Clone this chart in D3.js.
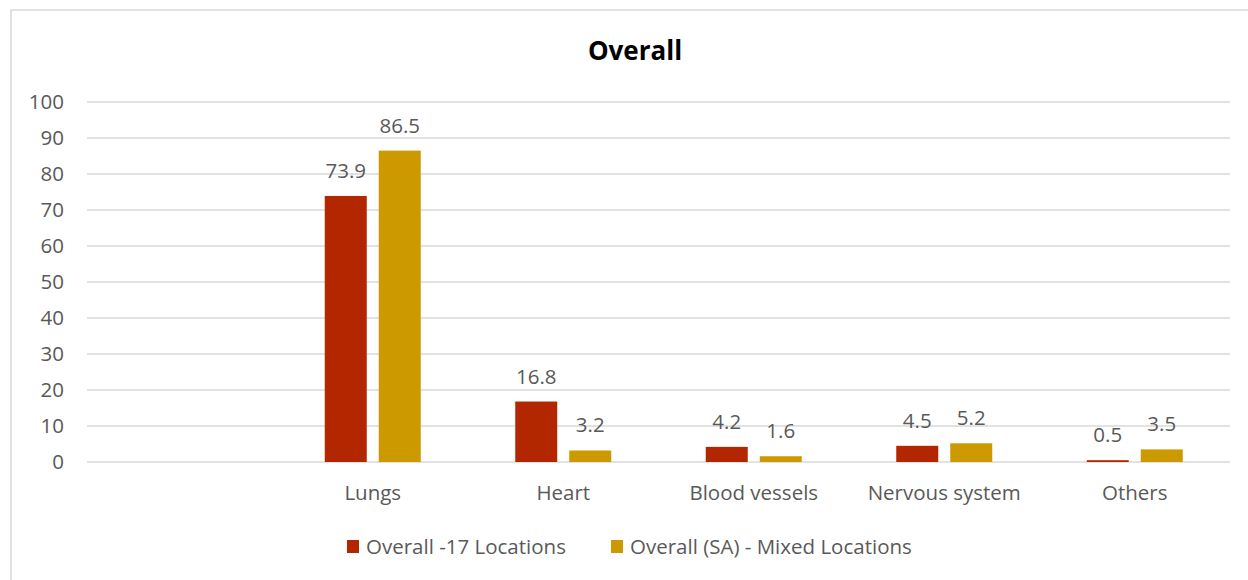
<!DOCTYPE html>
<html lang="en">
<head>
    <meta charset="utf-8" />
    <title>Overall</title>
    <script src="https://d3js.org/d3.v7.min.js"></script>
    <style>
        body { margin: 0; background: #fff; }
        text { font-family: "Open Sans", "Noto Sans", sans-serif; fill: #595959; }
    </style>
</head>
<body>
    <script>
        // data
        var categories = ["", "Lungs", "Heart", "Blood vessels", "Nervous system", "Others"];
        var seriesNames = ["Overall -17 Locations", "Overall (SA) - Mixed Locations"];
        var series17 = [null, 73.9, 16.8, 4.2, 4.5, 0.5];
        var seriesSA = [null, 86.5, 3.2, 1.6, 5.2, 3.5];
        var yTicks = [0, 10, 20, 30, 40, 50, 60, 70, 80, 90, 100];
        var colors = ["#b22600", "#cc9900"];

        var width = 1248, height = 580;
        var svg = d3.select("body").append("svg")
            .attr("width", width)
            .attr("height", height);

        // chart frame
        svg.append("rect")
            .attr("x", 11).attr("y", 10)
            .attr("width", 1260).attr("height", 600)
            .attr("fill", "none")
            .attr("stroke", "#d9d9d9")
            .attr("stroke-width", 1.5);

        var x = d3.scaleBand().domain(categories.map(function (d, i) { return i; }))
            .range([87, 1230]);
        var y = d3.scaleLinear().domain([0, 100]).range([462, 102]);
        var barW = 42, gap = 12;

        // gridlines
        svg.append("g").selectAll("line")
            .data(yTicks)
            .enter().append("line")
            .attr("x1", 87).attr("x2", 1230)
            .attr("y1", function (d) { return y(d); })
            .attr("y2", function (d) { return y(d); })
            .attr("stroke", "#d9d9d9")
            .attr("stroke-width", 1.5);

        svg.append("g").selectAll("text")
            .data(yTicks)
            .enter().append("text")
            .attr("x", 64)
            .attr("y", function (d) { return y(d); })
            .attr("dy", "0.35em")
            .attr("text-anchor", "end")
            .style("font-size", "20.5px")
            .text(function (d) { return d; });

        // title
        svg.append("text")
            .attr("x", 635).attr("y", 60)
            .attr("text-anchor", "middle")
            .style("font-size", "26px")
            .style("font-weight", "bold")
            .style("fill", "#000")
            .text("Overall");

        // category labels
        svg.append("g").selectAll("text")
            .data(categories)
            .enter().append("text")
            .attr("x", function (d, i) { return x(i) + x.bandwidth() / 2; })
            .attr("y", 500)
            .attr("text-anchor", "middle")
            .style("font-size", "20.5px")
            .text(function (d) { return d; });

        // bars
        var allSeries = [series17, seriesSA];
        allSeries.forEach(function (vals, s) {
            var pts = vals.map(function (v, i) { return { v: v, i: i }; })
                .filter(function (d) { return d.v !== null; });
            var offset = s === 0 ? -(gap / 2 + barW) : gap / 2;
            var g = svg.append("g");
            g.selectAll("rect")
                .data(pts)
                .enter().append("rect")
                .attr("x", function (d) { return x(d.i) + x.bandwidth() / 2 + offset; })
                .attr("y", function (d) { return y(d.v); })
                .attr("width", barW)
                .attr("height", function (d) { return y(0) - y(d.v); })
                .attr("fill", colors[s]);
            g.selectAll("text")
                .data(pts)
                .enter().append("text")
                .attr("x", function (d) { return x(d.i) + x.bandwidth() / 2 + offset + barW / 2; })
                .attr("y", function (d) { return y(d.v) - 18; })
                .attr("text-anchor", "middle")
                .style("font-size", "20.5px")
                .text(function (d) { return d.v.toFixed(1); });
        });

        // legend
        var legendX = [347, 611];
        seriesNames.forEach(function (name, s) {
            svg.append("rect")
                .attr("x", legendX[s]).attr("y", 540)
                .attr("width", 12).attr("height", 13)
                .attr("fill", colors[s]);
            svg.append("text")
                .attr("x", legendX[s] + 19).attr("y", 554)
                .style("font-size", "20.5px")
                .text(name);
        });
    </script>
</body>
</html>
